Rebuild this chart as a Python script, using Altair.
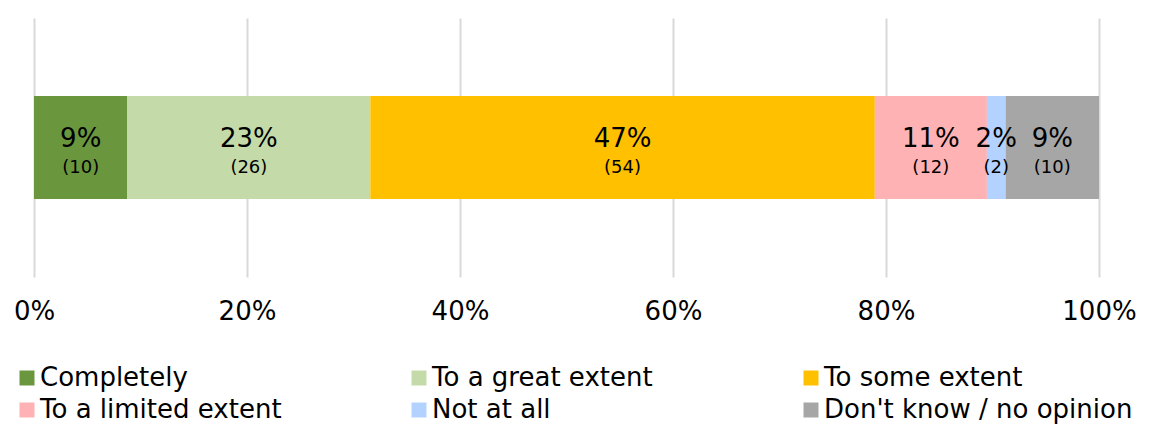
import altair as alt
import pandas as pd

categories = ["Completely", "To a great extent", "To some extent",
              "To a limited extent", "Not at all", "Don't know / no opinion"]
counts = [10, 26, 54, 12, 2, 10]
colors = ["#6A963E", "#C4DBA9", "#FFC000", "#FFB2B4", "#B3D2FF", "#A6A6A6"]
tick_values = [0, 0.2, 0.4, 0.6, 0.8, 1.0]

df = pd.DataFrame({
    "category": categories,
    "count": counts,
    "order": list(range(len(categories))),
    "row": ["all"] * len(categories),
})

FONT = "DejaVu Sans"

base = (
    alt.Chart(df)
    .transform_joinaggregate(total="sum(count)")
    .transform_calculate(pct="datum.count / datum.total")
    .transform_stack(stack="pct", as_=["x0", "x1"], groupby=["row"],
                     sort=[alt.SortField("order", order="ascending")])
    .transform_calculate(
        mid="(datum.x0 + datum.x1) / 2",
        pct_label="format(datum.pct, '.0%')",
        count_label="'(' + datum.count + ')'",
    )
)

yenc = alt.Y("row:N", axis=None,
             scale=alt.Scale(paddingInner=0, paddingOuter=0.757))

bars = base.mark_bar().encode(
    x=alt.X("x0:Q", scale=alt.Scale(domain=[0, 1]),
            axis=alt.Axis(format=".0%", values=tick_values, grid=True,
                          gridColor="#D9D9D9", gridWidth=2, domain=False,
                          ticks=False, labelFontSize=26, labelPadding=21,
                          labelColor="black", labelFont=FONT, labelFlush=False,
                          title=None)),
    x2="x1:Q",
    y=yenc,
    color=alt.Color("category:N",
                    scale=alt.Scale(domain=categories, range=colors),
                    legend=alt.Legend(title=None, orient="none", legendX=-20,
                                      legendY=347, columns=3, gridAlign="all",
                                      direction="horizontal", padding=0,
                                      columnPadding=57, rowPadding=6,
                                      symbolType="square", symbolSize=225,
                                      symbolStrokeWidth=0, labelFontSize=26,
                                      labelFont=FONT, labelColor="black",
                                      labelOffset=0, labelLimit=600)),
    order=alt.Order("order:Q"),
)

pct_text = base.mark_text(fontSize=26, font=FONT, color="black", dy=-9).encode(
    x="mid:Q", y=yenc, text="pct_label:N")
cnt_text = base.mark_text(fontSize=18, font=FONT, color="black", dy=20).encode(
    x="mid:Q", y=yenc, text="count_label:N")

chart = (
    alt.layer(bars, pct_text, cnt_text)
    .properties(width=1065, height=259,
                autosize=alt.AutoSizeParams(type="none"),
                padding={"left": 26, "top": 10, "right": 42, "bottom": 149})
    .configure_view(stroke=None)
)

chart.save("out.html", embed_options={"renderer": "svg", "actions": False})
